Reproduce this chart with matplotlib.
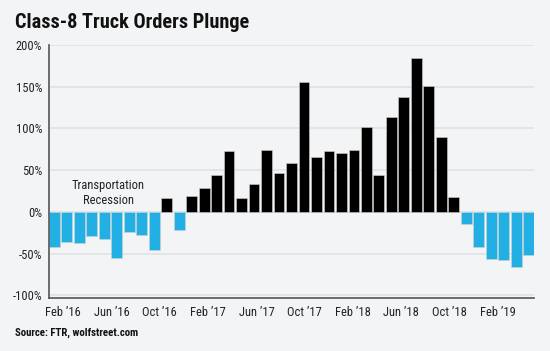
import numpy as np
import matplotlib
matplotlib.use("Agg")
import matplotlib.pyplot as plt
from matplotlib import font_manager

# year-over-year change in Class-8 truck orders, Feb 2016 .. Apr 2019 (%)
months = ["Feb'16", "Mar'16", "Apr'16", "May'16", "Jun'16", "Jul'16", "Aug'16", "Sep'16",
          "Oct'16", "Nov'16", "Dec'16", "Jan'17", "Feb'17", "Mar'17", "Apr'17", "May'17",
          "Jun'17", "Jul'17", "Aug'17", "Sep'17", "Oct'17", "Nov'17", "Dec'17", "Jan'18",
          "Feb'18", "Mar'18", "Apr'18", "May'18", "Jun'18", "Jul'18", "Aug'18", "Sep'18",
          "Oct'18", "Nov'18", "Dec'18", "Jan'19", "Feb'19", "Mar'19", "Apr'19"]
yoy = [-42, -35.5, -37.5, -29, -32, -55, -24.5, -27, -45,
       16.5, -22, 19, 28.5, 44, 73, 16.5, 33, 74, 46.5, 59,
       155.5, 66, 73, 70.5, 74, 101.5, 44, 113.5, 138, 185,
       151, 90, 18, -14, -41.5, -56, -57, -66, -51]
tick_labels = ["Feb \u201916", "Jun \u201916", "Oct \u201916", "Feb \u201917", "Jun \u201917",
               "Oct \u201917", "Feb \u201918", "Jun \u201918", "Oct \u201918", "Feb \u201919"]
y_ticks = [-100, -50, 0, 50, 100, 150, 200]

# pick a narrow font if one is around
names = {f.name for f in font_manager.fontManager.ttflist}
cond = next((n for n in ["Roboto Condensed", "Liberation Sans Narrow", "Open Sans Condensed",
                         "Noto Sans Condensed"] if n in names), None)
if cond:
    fam = [cond, "DejaVu Sans"]
    stretch = "normal"
else:
    fam = ["DejaVu Sans"]
    stretch = "condensed"

bg = "#f3f4f6"
blue = "#22b0e4"

fig = plt.figure(figsize=(5.5, 3.51), dpi=100, facecolor=bg)
ax = fig.add_axes([49 / 550, 1 - 298 / 351, 485 / 550, 253 / 351], facecolor=bg)

x = np.arange(len(yoy))
vals = np.array(yoy)
colors = np.where(vals < 0, blue, "black")
ax.bar(x, vals, width=0.86, color=colors, edgecolor="#d0d0d0", linewidth=0.4, zorder=2)

ax.set_xlim(-0.43, len(yoy) - 0.57)
ax.set_ylim(-103, 200)
ax.set_yticks(y_ticks)
ax.set_yticklabels([f"{v}%" for v in y_ticks])
ax.yaxis.grid(True, color="#e2e3e6", linewidth=1.3, zorder=0)
ax.set_axisbelow(True)

# tick labels in the original sit on a slightly tighter spacing than the bars
ax.set_xticks(np.linspace(0.7, 35.55, len(tick_labels)))
ax.set_xticklabels(tick_labels)
ax.tick_params(axis="both", length=0, labelsize=9, labelcolor="#222222")
ax.tick_params(axis="x", pad=6)
ax.tick_params(axis="y", pad=5)
for lab in ax.get_xticklabels() + ax.get_yticklabels():
    lab.set_family(fam)
    lab.set_stretch(stretch)

for s in ["top", "right"]:
    ax.spines[s].set_visible(False)
for s in ["left", "bottom"]:
    ax.spines[s].set_color("#555555")
    ax.spines[s].set_linewidth(1.2)

ax.text(4.3, 23, "Transportation\nRecession", ha="center", va="center", fontsize=9,
        family=fam, stretch=stretch, color="#222222", linespacing=1.25, zorder=3)

fig.text(15 / 550, 1 - 22 / 351, "Class-8 Truck Orders Plunge", ha="left", va="center",
         fontsize=14.6, fontweight="bold", family=fam, stretch=stretch, color="#111111")
fig.text(15 / 550, 1 - 333 / 351, "Source: FTR, wolfstreet.com", ha="left", va="center",
         fontsize=7.8, fontweight="bold", family=fam, stretch=stretch, color="#111111")

fig.savefig("out.png", dpi=100, facecolor=bg)
